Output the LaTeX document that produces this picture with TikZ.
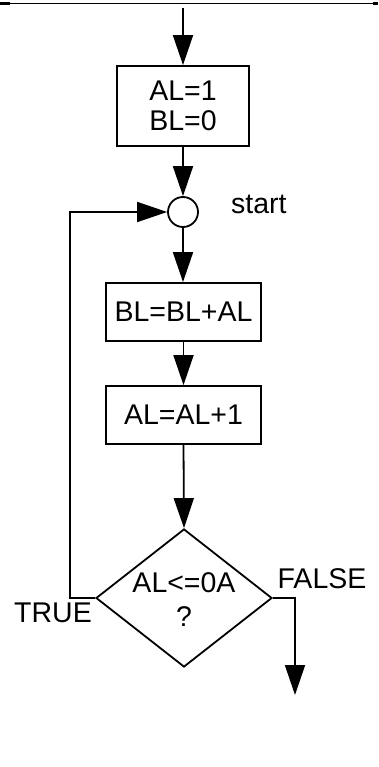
\documentclass[tikz,border=0pt]{standalone}
\usepackage{fontspec}
\setmainfont{Liberation Sans}
\usetikzlibrary{positioning, arrows.meta, shapes.geometric}

\tikzset{
  flow/.style={line width=1.8pt, -{Triangle[length=30pt,width=20pt]}},
  box/.style={draw, line width=1.8pt, rectangle, inner sep=0pt},
  decision/.style={draw, line width=1.8pt, diamond, inner sep=0pt, minimum width=176pt, minimum height=138pt},
  junction/.style={draw, line width=1.8pt, circle, inner sep=0pt, minimum size=30pt},
  txt/.style={font=\fontsize{28.5}{30}\selectfont, align=center, inner sep=0pt}
}

\begin{document}
\begin{tikzpicture}[x=1pt, y=-1pt]
  \useasboundingbox (0,0) rectangle (378,767);
  \draw[line width=1pt] (0,3.5) -- (378,3.5);
  \draw[line width=2.5pt] (0,3.5) -- (10,3.5);
  \draw[line width=2.5pt] (373,3.5) -- (378,3.5);

  \node[box, minimum width=132pt, minimum height=80pt] (init) at (183,106) {};
  \node[txt] (inittext) at (init) {AL=1\\BL=0};
  \node[junction] (join) at (183,212) {};
  \node[txt, anchor=west] (start) at (231,204) {start};
  \node[box, minimum width=155pt, minimum height=58pt] (addbl) at (183.5,312) {};
  \node[txt] (addbltext) at (addbl) {BL=BL+AL};
  \node[box, minimum width=155pt, minimum height=58pt] (incal) at (183.5,415) {};
  \node[txt] (incaltext) at (incal) {AL=AL+1};
  \node[decision] (test) at (184,598) {};
  \node[txt] (testtext) at (184,600) {AL<=0A\\[4pt]?};
  \node[txt] (true) at (53,613) {TRUE};
  \node[txt] (false) at (322,579) {FALSE};

  \coordinate (entry) at (183,8);
  \coordinate (loopcorner) at (70,598);
  \coordinate (exit) at (295,695);

  \draw[flow] (entry) -- (init.north);
  \draw[flow] (init.south) -- (join.north);
  \draw[flow] (join.south) -- (join.south |- addbl.north);
  \draw[flow] (addbl.south) -- (incal.north);
  \draw[flow] (incal.south) -- (test.north);
  \draw[flow] (test.west) -- (loopcorner) |- (join.west);
  \draw[flow] (test.east) -| (exit);
\end{tikzpicture}
\end{document}
